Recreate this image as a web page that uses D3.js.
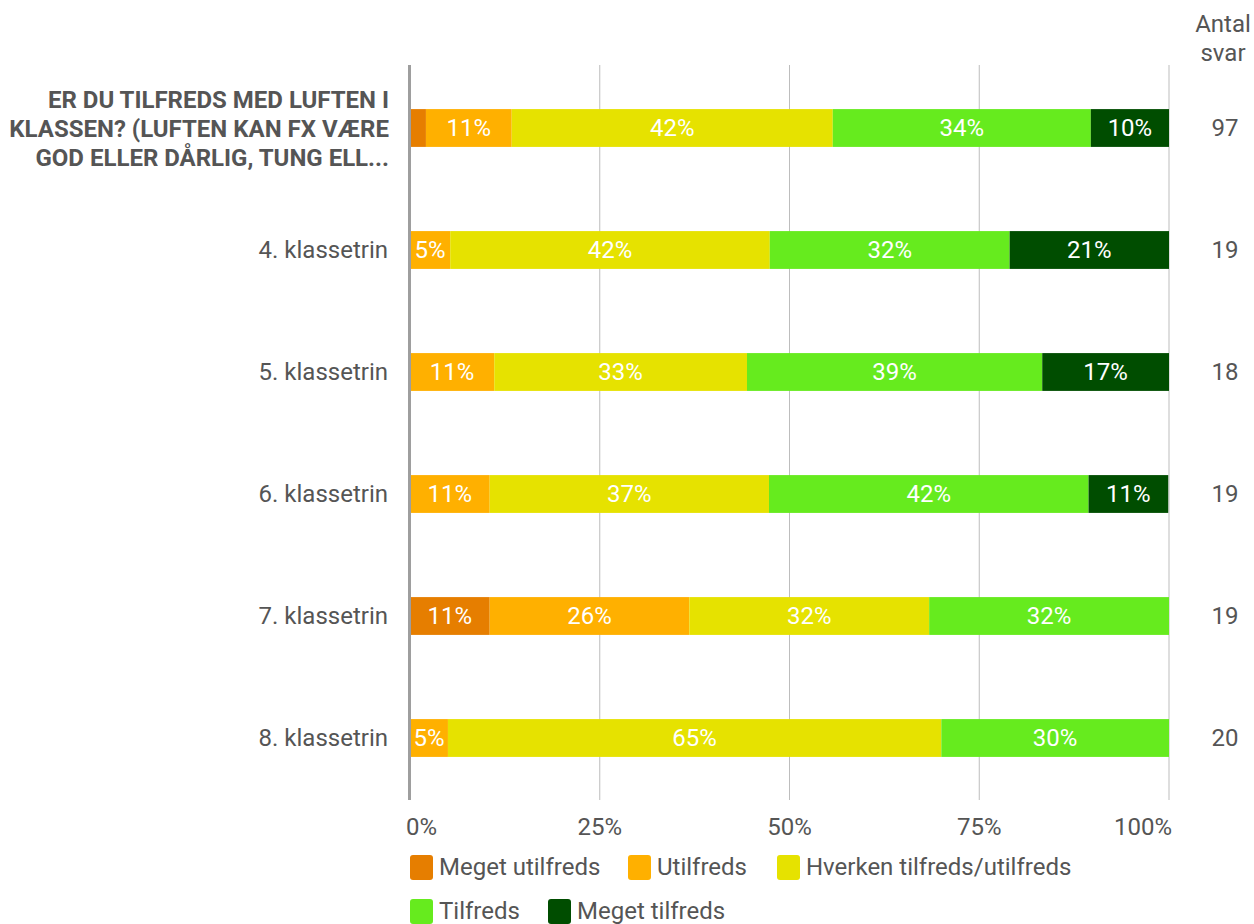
<!DOCTYPE html>
<html><head><meta charset="utf-8">
<script src="https://cdn.jsdelivr.net/npm/d3@7"></script>
<style>body{margin:0;background:#fff;}svg text{font-family:Roboto,"Noto Sans",sans-serif;}</style>
</head><body>
<svg id="c" width="1254" height="924"></svg>
<script>
const categories = ["ER DU TILFREDS MED LUFTEN I|KLASSEN? (LUFTEN KAN FX VÆRE|GOD ELLER DÅRLIG, TUNG ELL...", "4. klassetrin", "5. klassetrin", "6. klassetrin", "7. klassetrin", "8. klassetrin"];
const seriesNames = ["Meget utilfreds", "Utilfreds", "Hverken tilfreds/utilfreds", "Tilfreds", "Meget tilfreds"];
const megetUtilfreds = [2.1, 0, 0, 0, 10.5, 0];
const utilfreds = [11.3, 5.3, 11.1, 10.5, 26.3, 5.0];
const hverken = [42.3, 42.1, 33.3, 36.8, 31.6, 65.0];
const tilfredsV = [34.0, 31.6, 38.9, 42.1, 31.6, 30.0];
const megetTilfreds = [10.3, 21.0, 16.7, 10.5, 0, 0];
const antalSvar = [97, 19, 18, 19, 19, 20];
const tickValues = [0, 25, 50, 75, 100];
const tickLabels = ["0%", "25%", "50%", "75%", "100%"];
const colors = ["#e67e00", "#ffb000", "#e6e200", "#66eb1e", "#004d00"];

const FS = 24;
const series = [megetUtilfreds, utilfreds, hverken, tilfredsV, megetTilfreds];
const svg = d3.select("#c");
const x = d3.scaleLinear().domain([0, 100]).range([410, 1169]);
const y = d3.scaleBand().domain(d3.range(categories.length)).range([67, 799]).paddingInner(0.69).paddingOuter(0.345);

// gridlines
svg.append("g").selectAll("line").data(tickValues.slice(1)).join("line")
  .attr("x1", d => x(d)).attr("x2", d => x(d)).attr("y1", 65).attr("y2", 800)
  .attr("stroke", "#bdbdbd").attr("stroke-width", 1);

// bars
const rows = categories.map((c, i) => {
  let acc = 0;
  return series.map((s, k) => { const v = s[i]; const o = {i, k, x0: acc, x1: acc + v, v}; acc += v; return o; });
});
const segs = rows.flat().filter(d => d.v > 0);
svg.append("g").selectAll("rect").data(segs).join("rect")
  .attr("x", d => x(d.x0)).attr("width", d => x(d.x1) - x(d.x0))
  .attr("y", d => y(d.i)).attr("height", y.bandwidth())
  .attr("fill", d => colors[d.k]);
svg.append("g").selectAll("text").data(segs.filter(d => x(d.x1) - x(d.x0) > 30)).join("text")
  .attr("x", d => (x(d.x0) + x(d.x1)) / 2).attr("y", d => y(d.i) + y.bandwidth() / 2 + 8)
  .attr("text-anchor", "middle").attr("fill", "#fff").attr("font-size", FS)
  .text(d => Math.round(d.v) + "%");

// left axis line
svg.append("line").attr("x1", 409.5).attr("x2", 409.5).attr("y1", 65).attr("y2", 800)
  .attr("stroke", "#9e9e9e").attr("stroke-width", 3);

// category labels
categories.forEach((c, i) => {
  const cy = y(i) + y.bandwidth() / 2;
  const lines = c.split("|");
  if (lines.length > 1) {
    const t = svg.append("text").attr("text-anchor", "end").attr("fill", "#555").attr("font-size", FS).attr("font-weight", "bold");
    lines.forEach((l, j) => t.append("tspan").attr("x", 389).attr("y", cy + 9 + (j - 1) * 29).text(l));
  } else {
    svg.append("text").attr("x", 388).attr("y", cy + 8).attr("text-anchor", "end").attr("fill", "#555").attr("font-size", FS).text(c);
  }
  svg.append("text").attr("x", 1225).attr("y", cy + 8).attr("text-anchor", "middle").attr("fill", "#555").attr("font-size", FS).text(antalSvar[i]);
});

// Antal svar header
svg.append("text").attr("x", 1223).attr("y", 32).attr("text-anchor", "middle").attr("fill", "#555").attr("font-size", FS).text("Antal");
svg.append("text").attr("x", 1223).attr("y", 61).attr("text-anchor", "middle").attr("fill", "#555").attr("font-size", FS).text("svar");

// x axis labels
svg.append("g").selectAll("text").data(tickValues).join("text")
  .attr("x", (d, i) => i === 0 ? x(d) - 4 : i === tickValues.length - 1 ? x(d) + 3 : x(d))
  .attr("y", 835)
  .attr("text-anchor", (d, i) => i === 0 ? "start" : i === tickValues.length - 1 ? "end" : "middle")
  .attr("fill", "#555").attr("font-size", FS)
  .text((d, i) => tickLabels[i]);

// legend
const legendPos = [[410, 867], [628, 867], [777, 867], [410, 911], [548, 911]];
seriesNames.forEach((n, k) => {
  const [lx, ly] = legendPos[k];
  svg.append("rect").attr("x", lx).attr("y", ly - 12).attr("width", 23).attr("height", 25).attr("rx", 3).attr("fill", colors[k]);
  svg.append("text").attr("x", lx + 29).attr("y", ly + 8).attr("fill", "#555").attr("font-size", FS).text(n);
});
</script>
</body></html>
